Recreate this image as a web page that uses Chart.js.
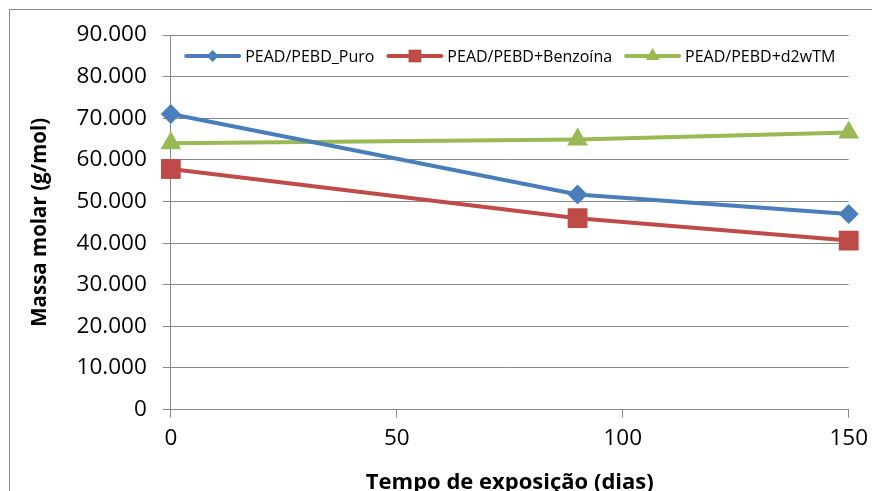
<!DOCTYPE html>
<html lang="pt">
<head>
  <meta charset="UTF-8">
  <title>Massa molar x Tempo de exposição</title>
  <script src="https://cdn.jsdelivr.net/npm/chart.js"></script>
  <style>
    body { margin: 0; background: #fff; }
    .wrap { position: relative; width: 872px; height: 491px; overflow: hidden; }
    .frame { position: absolute; left: 9px; top: 9px; width: 900px; height: 520px; border: 1px solid #8a8a8a; }
    canvas { position: absolute; left: 0; top: 0; }
  </style>
</head>
<body>
  <div class="wrap">
    <div class="frame"></div>
    <canvas id="massaChart" width="875" height="500"></canvas>
  </div>

  <script>
    // dados
    const days = [0, 90, 150];
    const puro = [71000, 51700, 47000];
    const benzoina = [57800, 46000, 40600];
    const d2w = [64000, 64900, 66600];
    const seriesNames = ['PEAD/PEBD_Puro', 'PEAD/PEBD+Benzoína', 'PEAD/PEBD+d2wTM'];
    const xTicks = [0, 50, 100, 150];

    const FONT = "'Open Sans', 'Liberation Sans', sans-serif";

    function fmt(v) {
      return String(v).replace(/\B(?=(\d{3})+(?!\d))/g, '.');
    }

    function marker(ctx, style, x, y, r) {
      ctx.beginPath();
      if (style === 'rectRot') {
        ctx.moveTo(x - r, y); ctx.lineTo(x, y - r); ctx.lineTo(x + r, y); ctx.lineTo(x, y + r);
      } else if (style === 'rect') {
        const s = r * Math.SQRT1_2;
        ctx.rect(x - s, y - s, 2 * s, 2 * s);
      } else {
        const w = r * Math.sqrt(3) / 2;
        ctx.moveTo(x, y - r); ctx.lineTo(x + w, y + r / 2); ctx.lineTo(x - w, y + r / 2);
      }
      ctx.closePath();
      ctx.fill();
    }

    // legenda desenhada dentro da área do gráfico
    const innerLegend = {
      id: 'innerLegend',
      afterDraw(chart) {
        const ctx = chart.ctx;
        const area = chart.chartArea;
        const sizes = [6, 9, 8];
        ctx.save();
        ctx.font = '16px ' + FONT;
        const lineW = 57, gapT = 4, gapI = 12;
        const items = chart.data.datasets.map(ds => ({ ds, w: lineW + gapT + ctx.measureText(ds.label).width }));
        const total = items.reduce((s, it) => s + it.w, 0) + gapI * (items.length - 1);
        let x = (area.left + area.right) / 2 - total / 2;
        const y = area.top + 21;
        items.forEach((it, i) => {
          const ds = it.ds;
          ctx.strokeStyle = ds.borderColor;
          ctx.fillStyle = ds.borderColor;
          ctx.lineWidth = 4;
          ctx.lineCap = 'round';
          ctx.beginPath();
          ctx.moveTo(x + 2, y); ctx.lineTo(x + lineW - 2, y);
          ctx.stroke();
          marker(ctx, ds.pointStyle, x + lineW / 2, y, sizes[i]);
          ctx.fillStyle = '#000';
          ctx.textBaseline = 'middle';
          ctx.textAlign = 'left';
          ctx.fillText(ds.label, x + lineW + gapT, y + 1);
          x += it.w + gapI;
        });
        ctx.restore();
      }
    };

    const toPoints = arr => days.map((d, i) => ({ x: d, y: arr[i] }));

    new Chart(document.getElementById('massaChart'), {
      type: 'line',
      data: {
        datasets: [
          { label: seriesNames[0], data: toPoints(puro), borderColor: '#4A7EBB', backgroundColor: '#4A7EBB',
            pointStyle: 'rectRot', pointRadius: 10, borderWidth: 4, pointBorderWidth: 0, tension: 0, clip: false },
          { label: seriesNames[1], data: toPoints(benzoina), borderColor: '#BE4B48', backgroundColor: '#BE4B48',
            pointStyle: 'rect', pointRadius: 14, borderWidth: 4, pointBorderWidth: 0, tension: 0, clip: false },
          { label: seriesNames[2], data: toPoints(d2w), borderColor: '#98B954', backgroundColor: '#98B954',
            pointStyle: 'triangle', pointRadius: 12, borderWidth: 4, pointBorderWidth: 0, tension: 0, clip: false }
        ]
      },
      options: {
        responsive: false,
        animation: false,
        layout: { padding: { left: 18, top: 35, right: 1, bottom: 4 } },
        plugins: {
          legend: { display: false },
          tooltip: { enabled: false }
        },
        scales: {
          x: {
            type: 'linear',
            min: 0, max: 150,
            afterBuildTicks: axis => { axis.ticks = xTicks.map(v => ({ value: v })); },
            ticks: { color: '#000', font: { family: FONT, size: 22.5 }, padding: 7, maxRotation: 0 },
            grid: { drawOnChartArea: false, drawTicks: true, tickLength: 8, color: '#888' },
            border: { color: '#888', width: 1 },
            title: { display: true, text: 'Tempo de exposição (dias)', color: '#000',
              font: { family: FONT, size: 22, weight: 'bold' }, padding: { top: 11, bottom: 0 } }
          },
          y: {
            min: 0, max: 90000,
            ticks: { stepSize: 10000, color: '#000', font: { family: FONT, size: 22.5 }, padding: 16,
              callback: v => fmt(v) },
            grid: { color: '#888', tickLength: 8 },
            border: { color: '#888', width: 1 },
            title: { display: true, text: 'Massa molar (g/mol)', color: '#000',
              font: { family: FONT, size: 20.5, weight: 'bold' }, padding: { top: 10, bottom: 8 } }
          }
        }
      },
      plugins: [innerLegend]
    });
  </script>
</body>
</html>
